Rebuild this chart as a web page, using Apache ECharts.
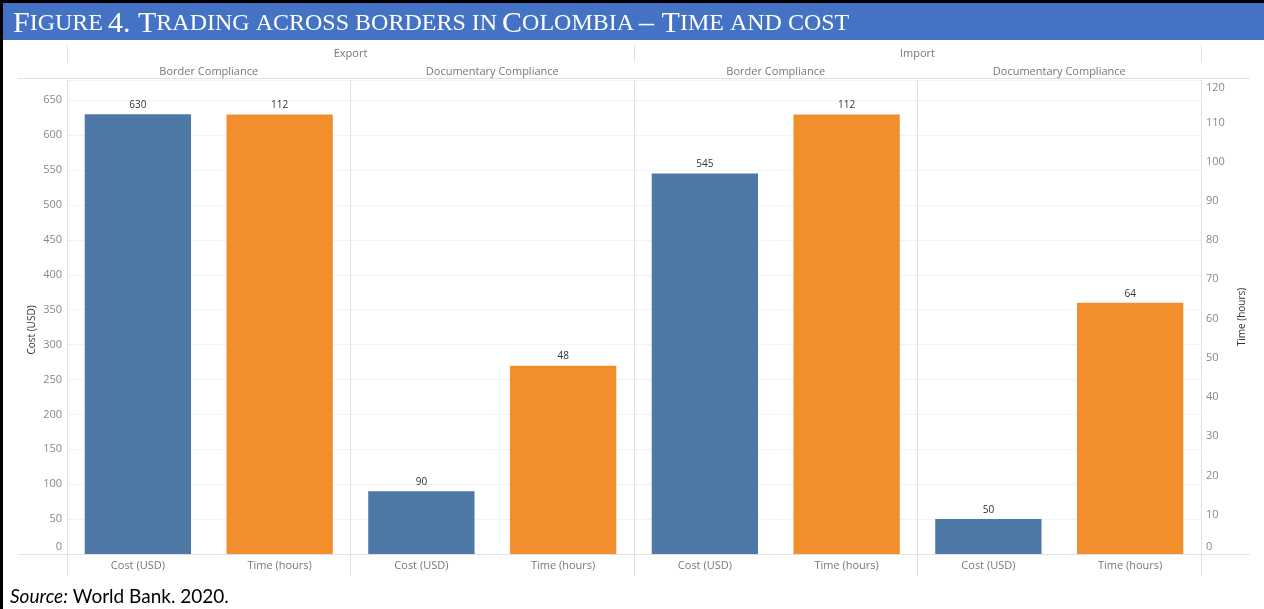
<!DOCTYPE html>
<html>
<head>
<meta charset="utf-8">
<script src="https://cdn.jsdelivr.net/npm/echarts@6/dist/echarts.min.js"></script>
<style>html,body{margin:0;padding:0;background:#fff}#c{width:1264px;height:609px}</style>
</head>
<body>
<div id="c"></div>
<script>
// ---- data ----
const flows = ['Export', 'Import'];
const procedures = ['Border Compliance', 'Documentary Compliance'];
const measures = ['Cost (USD)', 'Time (hours)'];
// order: Export-Border, Export-Documentary, Import-Border, Import-Documentary
const costUSD = [630, 90, 545, 50];
const timeHours = [112, 48, 112, 64];

// ---- build ----
const categories = [], panelNames = [], costData = [], timeData = [];
flows.forEach(function (f, fi) {
  procedures.forEach(function (p, pi) {
    const k = fi * procedures.length + pi;
    panelNames.push(p);
    measures.forEach(function (m) { categories.push(m); });
    costData.push(costUSD[k], '-');
    timeData.push('-', timeHours[k]);
  });
});

const G = { left: 67, right: 63, top: 80, bottom: 55 };
const W = 1264, H = 609;
const sepColor = '#e1e1e1';
const font = 'Open Sans';

const chart = echarts.init(document.getElementById('c'), null, { renderer: 'canvas' });
chart.setOption({
  animation: false,
  backgroundColor: '#fff',
  title: {
    left: 8, top: 4,
    text: '{a|F}{b|IGURE} {a|4. T}{b|RADING ACROSS BORDERS IN} {a|C}{b|OLOMBIA} {a|– T}{b|IME AND COST}',
    textStyle: {
      fontWeight: 'normal',
      rich: {
        a: { fontFamily: 'Liberation Serif', fontSize: 30, fontWeight: 'normal', color: '#fff' },
        b: { fontFamily: 'Liberation Serif', fontSize: 24, fontWeight: 'normal', color: '#fff' }
      }
    }
  },
  graphic: [
    { type: 'rect', shape: { x: 0, y: 0, width: W, height: 3 }, style: { fill: '#000' }, z: 0 },
    { type: 'rect', shape: { x: 0, y: 0, width: 3, height: H }, style: { fill: '#000' }, z: 0 },
    { type: 'rect', shape: { x: 3, y: 3, width: W - 3, height: 37 }, style: { fill: '#4472C4' }, z: 0 },
    { type: 'line', shape: { x1: 18, y1: 78.5, x2: 1250, y2: 78.5 }, style: { stroke: sepColor, lineWidth: 1 }, z: 1 },
    { type: 'line', shape: { x1: 18, y1: 554.5, x2: 1250, y2: 554.5 }, style: { stroke: sepColor, lineWidth: 1 }, z: 1 },
    {
      type: 'text', left: 10, top: 587, z: 5,
      style: {
        text: '{i|Source:} World Bank. 2020.',
        fontFamily: 'Lato', fontSize: 19, fill: '#000',
        rich: { i: { fontFamily: 'Lato', fontStyle: 'italic', fontSize: 19, fill: '#000' } }
      }
    }
  ],
  grid: { left: G.left, right: G.right, top: G.top, bottom: G.bottom, containLabel: false },
  xAxis: [
    {
      type: 'category', data: categories, position: 'bottom',
      axisLine: { show: false }, axisTick: { show: false },
      axisLabel: { interval: 0, color: '#777', fontFamily: font, fontSize: 11, margin: 6 }
    },
    {
      type: 'category', data: panelNames, position: 'top',
      axisLine: { show: false },
      axisTick: { show: true, interval: 0, length: 18, lineStyle: { color: sepColor } },
      axisLabel: { interval: 0, color: '#777', fontFamily: font, fontSize: 11, margin: 3 },
      splitLine: { show: true, interval: 0, lineStyle: { color: sepColor } }
    },
    {
      type: 'category', data: flows, position: 'top', offset: 18,
      axisLine: { show: false },
      axisTick: { show: true, interval: 0, length: 17, lineStyle: { color: sepColor } },
      axisLabel: { interval: 0, color: '#777', fontFamily: font, fontSize: 11, margin: 3 }
    },
    {
      type: 'category', data: panelNames, position: 'bottom',
      axisLine: { show: false },
      axisTick: { show: true, interval: 0, length: 22, lineStyle: { color: sepColor } },
      axisLabel: { show: false }
    }
  ],
  yAxis: [
    {
      type: 'value', min: 0, max: 679, interval: 50, position: 'left',
      name: 'Cost (USD)', nameLocation: 'middle', nameGap: 30, nameRotate: 90, nameMoveOverlap: false,
      nameTextStyle: { color: '#333', fontFamily: font, fontSize: 10, padding: [0, 26, 0, 0] },
      axisLine: { show: false }, axisTick: { show: false },
      axisLabel: {
        showMaxLabel: false, color: '#888', fontFamily: font, fontSize: 11, margin: 5,
        formatter: function (v) { return v === 0 ? '{z|0}' : String(v); },
        rich: { z: { padding: [0, 0, 14, 0], color: '#888', fontFamily: font, fontSize: 11 } }
      },
      splitLine: { show: true, lineStyle: { color: '#f3f3f3' } }
    },
    {
      type: 'value', min: 0, max: 120.8, interval: 10, position: 'right',
      name: 'Time (hours)', nameLocation: 'middle', nameGap: 36, nameRotate: 90,
      nameTextStyle: { color: '#333', fontFamily: font, fontSize: 10 },
      axisLine: { show: false }, axisTick: { show: false },
      axisLabel: {
        showMaxLabel: false, color: '#888', fontFamily: font, fontSize: 11, margin: 5,
        formatter: function (v) { return v === 0 ? '{z|0}' : (v === 120 ? '{t|120}' : String(v)); },
        rich: {
          z: { padding: [0, 0, 14, 0], color: '#888', fontFamily: font, fontSize: 11 },
          t: { padding: [10, 0, 0, 0], color: '#888', fontFamily: font, fontSize: 11 }
        }
      },
      splitLine: { show: false }
    }
  ],
  series: [
    {
      name: 'Cost (USD)', type: 'bar', xAxisIndex: 0, yAxisIndex: 0, data: costData,
      barWidth: '75%', barGap: '-100%',
      itemStyle: { color: '#4E79A7' },
      label: { show: true, position: 'top', distance: 4, color: '#333', fontFamily: font, fontSize: 10 }
    },
    {
      name: 'Time (hours)', type: 'bar', xAxisIndex: 0, yAxisIndex: 1, data: timeData,
      barWidth: '75%', barGap: '-100%',
      itemStyle: { color: '#F28E2B' },
      label: { show: true, position: 'top', distance: 4, color: '#333', fontFamily: font, fontSize: 10 }
    }
  ]
});
</script>
</body>
</html>
